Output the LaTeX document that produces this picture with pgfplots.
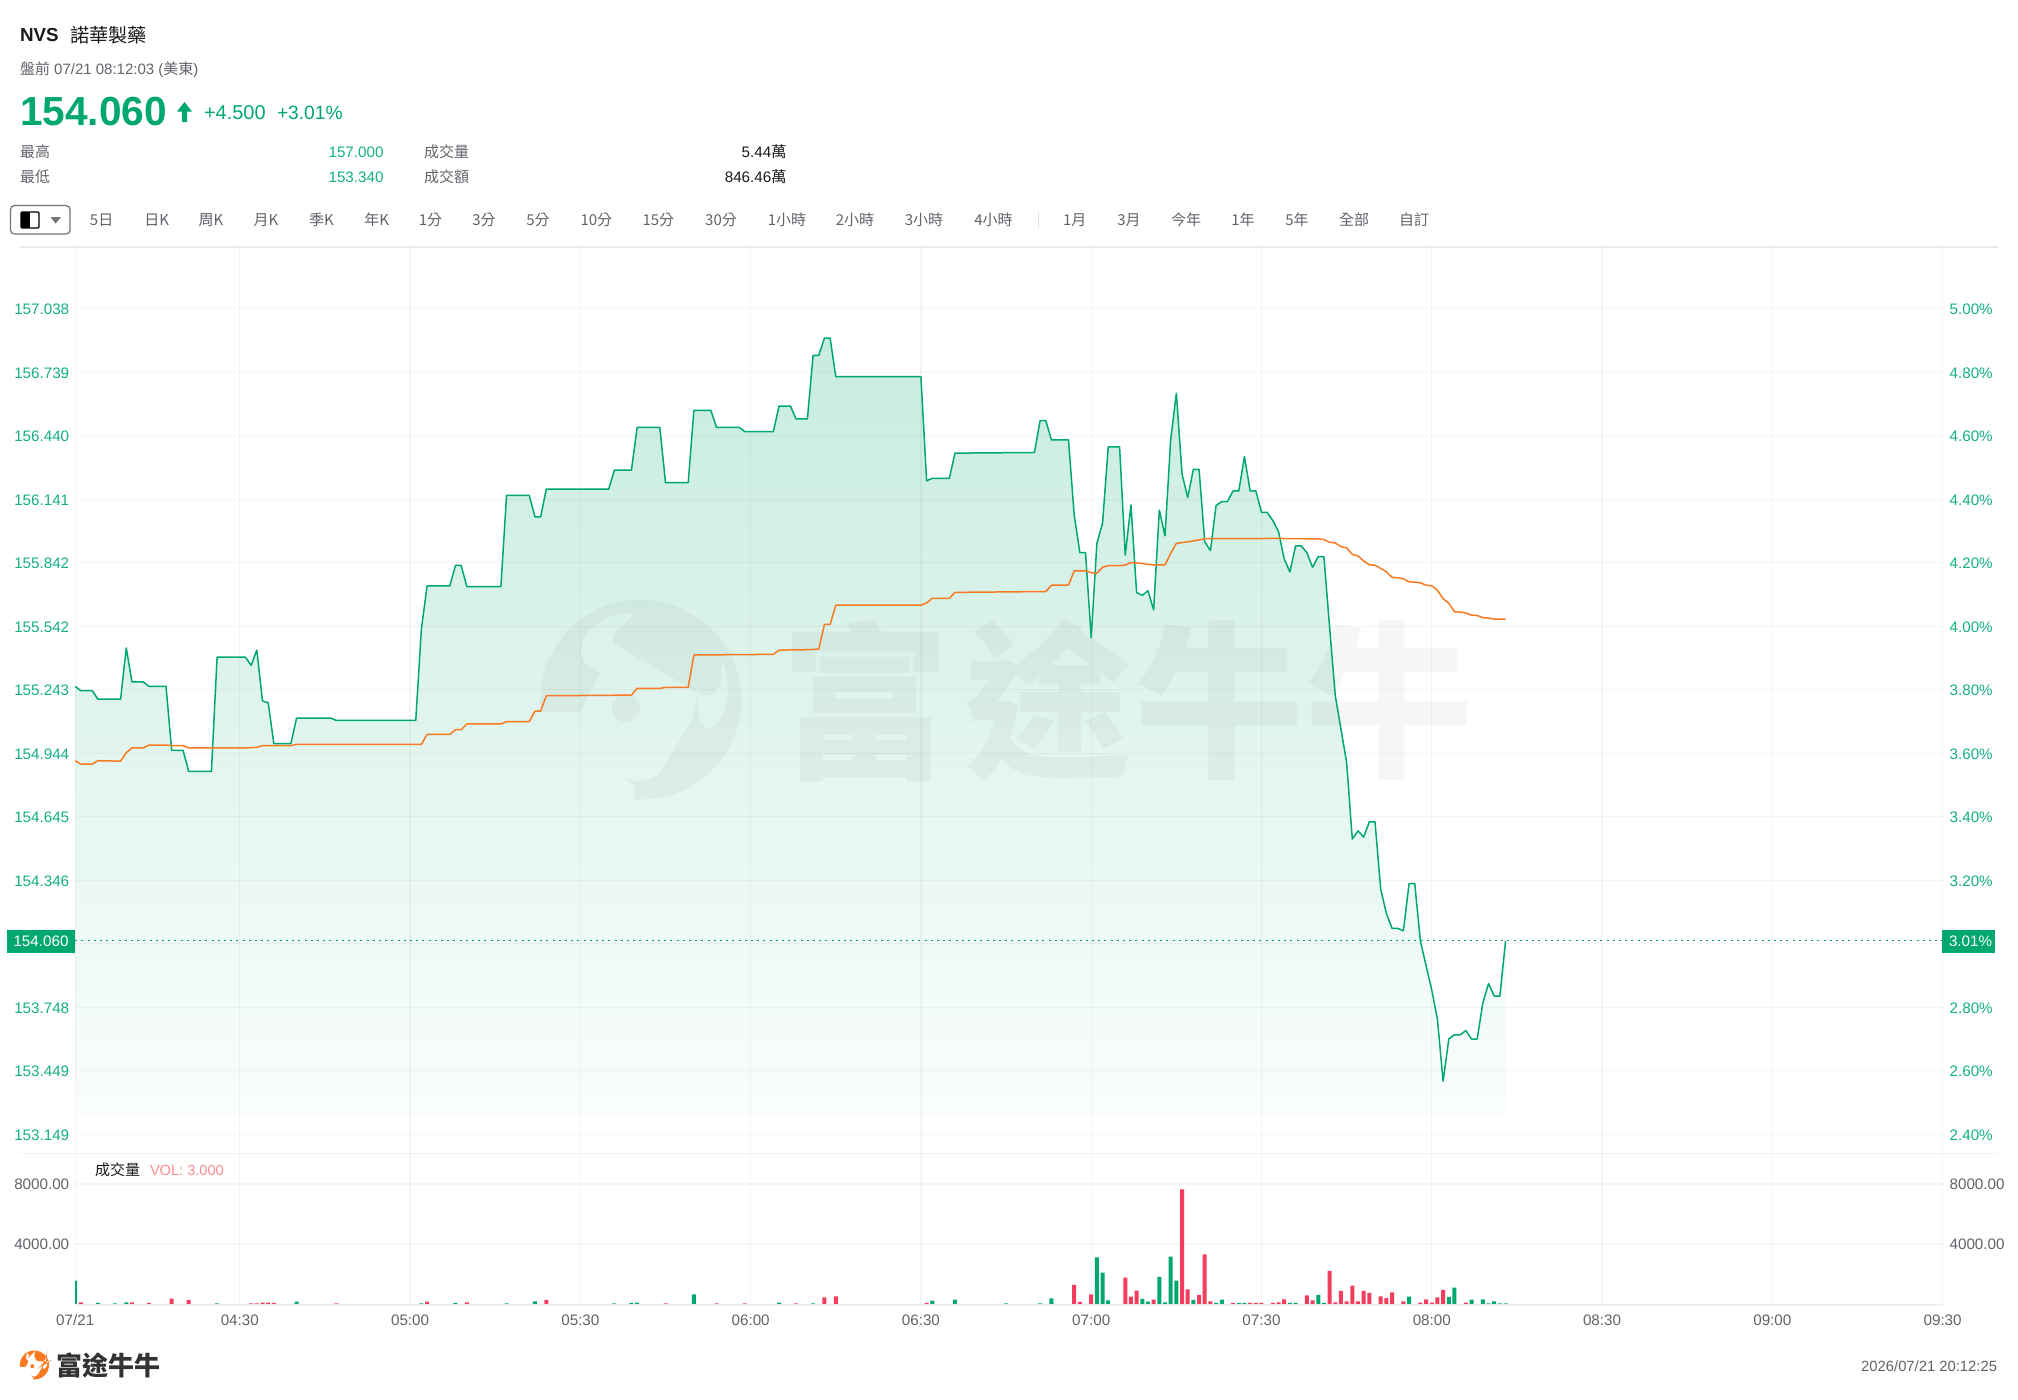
\documentclass[border=0pt]{standalone}
\usepackage{pgfplots}
\usepackage{pgfplotstable}
\usepackage{fontspec}
\pgfplotsset{compat=1.18}
\setmainfont{Liberation Sans}
\newfontfamily\cjk{Noto Sans CJK TC}
\definecolor{upg}{HTML}{00A870}
\definecolor{tickg}{HTML}{14B084}
\definecolor{org}{HTML}{F97A1F}
\definecolor{volr}{HTML}{F23D5C}
\definecolor{volt}{HTML}{FF8A8F}
\definecolor{gry}{HTML}{62626A}
\definecolor{dark}{HTML}{1A1A1F}
\newcommand\fs[1]{\fontsize{#1}{#1}\selectfont}

\pgfplotstableread{
m p
1 155.259
2 155.239
4 155.239
5 155.199
9 155.199
10 155.440
11 155.280
13 155.280
14 155.259
17 155.259
18 154.958
20 154.958
21 154.859
25 154.859
26 155.397
31 155.397
32 155.358
33 155.430
34 155.190
35 155.182
36 154.989
39 154.989
40 155.110
46 155.110
47 155.099
61 155.099
62 155.532
63 155.733
67 155.733
68 155.829
69 155.829
70 155.729
76 155.729
77 156.159
81 156.159
82 156.058
83 156.058
84 156.189
95 156.189
96 156.278
99 156.278
100 156.479
104 156.479
105 156.219
109 156.219
110 156.559
113 156.559
114 156.479
118 156.479
119 156.459
124 156.459
125 156.580
127 156.580
128 156.519
130 156.519
131 156.819
132 156.819
133 156.900
134 156.900
135 156.718
150 156.718
151 156.228
152 156.239
155 156.239
156 156.358
170 156.361
171 156.511
172 156.511
173 156.420
176 156.420
177 156.067
178 155.889
179 155.889
180 155.489
181 155.933
182 156.028
183 156.387
185 156.387
186 155.878
187 156.114
188 155.701
189 155.688
190 155.710
191 155.619
192 156.090
193 155.968
194 156.420
195 156.640
196 156.260
197 156.149
198 156.282
199 156.282
200 155.940
201 155.899
202 156.111
203 156.130
204 156.130
205 156.180
206 156.180
207 156.342
208 156.180
209 156.180
210 156.079
211 156.079
212 156.040
213 155.988
214 155.860
215 155.798
216 155.921
217 155.921
218 155.889
219 155.820
220 155.871
221 155.870
222 155.538
223 155.215
224 155.058
225 154.901
226 154.540
227 154.579
228 154.549
229 154.621
230 154.621
231 154.305
232 154.190
233 154.119
234 154.119
235 154.108
236 154.330
237 154.330
238 154.059
239 153.943
240 153.829
241 153.690
242 153.399
243 153.599
244 153.618
245 153.618
246 153.638
247 153.598
248 153.598
249 153.768
250 153.859
251 153.800
252 153.800
253 154.060
}\price

\pgfplotstableread{
m p
1 154.909
2 154.893
4 154.893
5 154.909
9 154.907
10 154.947
11 154.969
13 154.969
14 154.983
17 154.983
18 154.980
20 154.980
21 154.969
31 154.969
33 154.972
34 154.980
39 154.980
40 154.986
62 154.986
63 155.033
67 155.033
68 155.055
69 155.055
70 155.082
76 155.082
77 155.093
81 155.093
82 155.143
83 155.143
84 155.215
99 155.218
100 155.250
104 155.250
105 155.254
109 155.254
110 155.407
124 155.410
125 155.430
130 155.432
132 155.435
133 155.551
134 155.551
135 155.642
150 155.642
151 155.652
152 155.674
155 155.674
156 155.702
164 155.704
172 155.706
173 155.736
176 155.736
177 155.803
179 155.803
180 155.795
181 155.792
182 155.820
183 155.828
185 155.828
186 155.831
187 155.842
188 155.841
191 155.831
193 155.831
194 155.886
195 155.933
197 155.940
199 155.949
200 155.955
213 155.956
220 155.954
221 155.951
222 155.938
223 155.935
224 155.917
225 155.912
226 155.881
227 155.874
228 155.850
229 155.832
230 155.830
231 155.815
232 155.799
233 155.773
234 155.771
235 155.766
236 155.752
237 155.750
238 155.747
239 155.736
240 155.733
241 155.712
242 155.672
243 155.651
244 155.611
245 155.609
246 155.605
247 155.595
248 155.593
249 155.583
250 155.581
251 155.576
253 155.576
}\vwap

\pgfplotstableread{
m v
2 133
11 133
14 88
18 377
21 288
32 66
33 66
34 110
35 110
36 88
47 66
63 177
70 133
84 288
105 66
114 66
119 66
128 66
133 465
135 532
151 88
177 1285
178 155
180 665
186 1772
187 510
188 908
191 310
196 7642
197 997
199 620
200 3322
201 200
205 90
208 90
209 90
210 90
212 90
213 130
214 330
218 600
219 266
222 2215
223 133
224 886
225 200
226 1240
227 200
228 886
229 753
231 532
232 420
233 797
235 200
238 110
239 332
240 110
241 465
242 952
246 110
}\volred

\pgfplotstableread{
m v
1 1573
5 88
8 66
10 133
26 66
40 177
62 66
68 88
77 66
82 200
96 66
99 88
100 110
110 664
125 110
131 66
152 244
156 310
165 66
171 66
173 400
181 3123
182 2104
183 266
189 354
190 177
192 1816
193 133
194 3167
195 1573
198 288
202 90
203 310
206 90
207 90
215 90
216 90
220 620
221 90
236 510
243 487
244 1107
247 310
249 332
250 66
251 200
252 66
253 66
}\volgreen

\newcommand\logoshape{
  (-100,12) arc[start angle=173,end angle=327,radius=100]
  [rounded corners=5pt] -- (81,-40) -- (79,-10) -- (66,-2) -- (-33,-60) -- (-4,-88) [sharp corners]
  .. controls (-40,-85) and (-62,-65) .. (-60,-47)
  .. controls (-58,-35) and (-48,-30) .. (-41,-27)
  -- (-61,12) -- cycle
  (84,-55) arc[start angle=327,end angle=450,radius=100]
  -- (-7,100) -- (-7,85) -- (-23,72)
  .. controls (-10,85) and (12,85) .. (22,67)
  -- (51,20) -- (56,-5) -- (59,22)
  .. controls (62,30) and (72,30) .. (79,20)
  .. controls (90,5) and (88,-25) .. (81,-40) -- cycle
  (-15,8) ellipse [x radius=14,y radius=14]
}
\tikzset{px/.style={x=0.5pt,y=-0.5pt}}
\pgfplotsset{mainbox/.style={at={(37.6pt,-576.65pt)},anchor=south west,scale only axis,width=933.7pt,height=453.15pt,
  xmin=1,xmax=330,ymin=153.0595,ymax=157.329},
  volbox/.style={at={(37.6pt,-652.15pt)},anchor=south west,scale only axis,width=933.7pt,height=75.5pt,
  xmin=1,xmax=330,ymin=0,ymax=10034,scaled y ticks=false}}

\begin{document}
\begin{tikzpicture}[every node/.style={inner sep=0pt,outer sep=0pt}]
\path[use as bounding box,fill=white] (0pt,0pt) rectangle (1009pt,-699.5pt);

% area fill
\begin{axis}[mainbox,hide axis]
\addplot[draw=none,shade,top color=white!78!upg,bottom color=white!98!upg] table[x=m,y=p]{\price} -- (axis cs:253,153.23) -- (axis cs:1,153.23) -- cycle;
\end{axis}

% watermark
\begin{scope}[px]
\begin{scope}[shift={(641,700)}]
\fill[black,opacity=.036] \logoshape;
\end{scope}
\begin{scope}[black,opacity=.036]
\node at (865,701) {\cjk\bfseries\fs{84}富};
\node at (1048,701) {\cjk\bfseries\fs{84}途};
\node at (1219,701) {\cjk\bfseries\fs{84}牛};
\node at (1389,701) {\cjk\bfseries\fs{84}牛};
\end{scope}
\draw[black!8,line width=1pt] (20,247) -- (1998,247);
\draw[black!5,line width=.7pt] (20,1153.3) -- (1998,1153.3);
\end{scope}

% main axis
\begin{axis}[mainbox,
  axis line style={draw=none},major tick length=0pt,
  xmajorgrids,ymajorgrids,grid style={black,opacity=.04,line width=.65pt},
  xtick={1,30,60,90,120,150,180,210,240,270,300,330},xticklabels={},
  ytick={153.149,153.449,153.748,154.047,154.346,154.645,154.944,155.243,155.542,155.842,156.141,156.440,156.739,157.038},
  yticklabels={153.149,153.449,153.748,{},154.346,154.645,154.944,155.243,155.542,155.842,156.141,156.440,156.739,157.038},
  yticklabel style={font=\fs{7.6},text=tickg,anchor=east,inner sep=0pt,yshift=-.4pt},
  yticklabel shift=3pt]
\addplot[upg,line width=.75pt,mark=none,line join=round] table[x=m,y=p]{\price};
\addplot[org,line width=.75pt,mark=none,line join=round] table[x=m,y=p]{\vwap};
\addplot[upg,line width=.55pt,dash pattern=on 1pt off 2.1pt,mark=none] coordinates {(1,154.06) (330,154.06)};
\end{axis}

% right labels main
\begin{axis}[mainbox,
  axis line style={draw=none},major tick length=0pt,xtick=\empty,
  ytick={153.149,153.449,153.748,154.346,154.645,154.944,155.243,155.542,155.842,156.141,156.440,156.739,157.038},
  yticklabels={2.40\%,2.60\%,2.80\%,3.20\%,3.40\%,3.60\%,3.80\%,4.00\%,4.20\%,4.40\%,4.60\%,4.80\%,5.00\%},
  yticklabel pos=right,
  yticklabel style={font=\fs{7.6},text=tickg,anchor=west,inner sep=0pt,yshift=-.4pt},
  yticklabel shift=3.5pt]
\addplot[draw=none,forget plot] coordinates {(1,154) (330,155)};
\end{axis}

% volume axis
\begin{axis}[volbox,
  axis line style={draw=none},major tick length=0pt,
  xmajorgrids,ymajorgrids,grid style={black,opacity=.04,line width=.65pt},
  xtick={1,30,60,90,120,150,180,210,240,270,300,330},
  xticklabels={07/21,04:30,05:00,05:30,06:00,06:30,07:00,07:30,08:00,08:30,09:00,09:30},
  xticklabel style={font=\fs{7.6},text=gry,inner sep=0pt,anchor=center,yshift=-8pt},
  ytick={4000,8000},yticklabels={4000.00,8000.00},
  yticklabel style={font=\fs{7.6},text=gry,anchor=east,inner sep=0pt},
  yticklabel shift=3pt,
  ybar,bar width=2pt,bar shift=0pt]
\addplot[draw=none,fill=volr] table[x=m,y=v]{\volred};
\addplot[draw=none,fill=upg] table[x=m,y=v]{\volgreen};
\end{axis}
\begin{axis}[volbox,
  axis line style={draw=none},major tick length=0pt,xtick=\empty,
  ytick={4000,8000},yticklabels={4000.00,8000.00},yticklabel pos=right,
  yticklabel style={font=\fs{7.6},text=gry,anchor=west,inner sep=0pt},
  yticklabel shift=3.5pt]
\addplot[draw=none,forget plot] coordinates {(1,100) (330,200)};
\end{axis}

\begin{scope}[px]
\draw[black!6,line width=1pt] (75,1304.6) -- (1942.5,1304.6);

% badges
\fill[upg] (7,929.5) rectangle (75,953);
\node[text=white] at (41,941.3) {\fs{7.6}154.060};
\fill[upg] (1942,930) rectangle (1995,953);
\node[text=white,anchor=west] at (1949,941.6) {\fs{7.6}3.01\%};

% header
\node[anchor=west,text=dark] at (20,35) {\bfseries\fs{9.4}NVS};
\node[anchor=west,text=dark] at (70,35) {\cjk\fs{9.6}諾華製藥};
\node[anchor=west,text=gry] at (20,70) {\fs{7.5}{\cjk 盤前} 07/21 08:12:03 ({\cjk 美東})};
\node[anchor=west,text=upg] at (20,112) {\bfseries\fs{20.3}154.060};
\fill[upg] (184.5,102) -- (192,111.5) -- (187,111.5) -- (187,122) -- (182,122) -- (182,111.5) -- (177,111.5) -- cycle;
\node[anchor=west,text=upg] at (204,113) {\fs{10}+4.500};
\node[anchor=west,text=upg] at (277,113) {\fs{9.6}+3.01\%};
\node[anchor=west,text=gry] at (20,152) {\cjk\fs{7.5}最高};
\node[anchor=west,text=gry] at (20,177) {\cjk\fs{7.5}最低};
\node[anchor=east,text=tickg] at (383.5,152) {\fs{7.6}157.000};
\node[anchor=east,text=tickg] at (383.5,177) {\fs{7.6}153.340};
\node[anchor=west,text=gry] at (424,152) {\cjk\fs{7.5}成交量};
\node[anchor=west,text=gry] at (424,177) {\cjk\fs{7.5}成交額};
\node[anchor=east,text=dark] at (786.5,152) {\fs{7.6}5.44{\cjk 萬}};
\node[anchor=east,text=dark] at (786.5,177) {\fs{7.6}846.46{\cjk 萬}};

% toolbar
\draw[black!55,line width=.6pt,rounded corners=2pt,fill=white] (10.5,205.5) rectangle (70,234);
\fill[black] (21,212) rectangle (30,228);
\draw[black,line width=.6pt,rounded corners=.5pt] (21,212) rectangle (39,228);
\fill[black!55] (50.5,217) -- (61,217) -- (55.7,223.5) -- cycle;
\foreach \xx/\tt in {101.6/5日,156.7/日K,211/周K,266/月K,321.5/季K,376.6/年K,430.5/1分,484/3分,538/5分,596.4/10分,658.4/15分,721/30分,787/1小時,855/2小時,924/3小時,993.4/4小時,1074.7/1月,1128.9/3月,1186/今年,1243/1年,1297/5年,1354/全部,1414/自訂}
  \node[text=gry] at (\xx,220) {\cjk\fs{7.5}\tt};
\draw[black!12,line width=.5pt] (1038,212) -- (1038,228);

% volume legend
\node[anchor=west,text=dark] at (95,1170) {\cjk\fs{7.5}成交量};
\node[anchor=west,text=volt] at (150,1170) {\fs{7.3}VOL: 3.000};

% footer
\begin{scope}[shift={(34.5,1365)},x=0.0725pt,y=-0.0725pt]
\fill[org] \logoshape;
\end{scope}
\node[anchor=west,text=black!80] at (56,1365) {\cjk\bfseries\fs{13}富途牛牛};
\node[anchor=east,text=gry] at (1997,1366) {\fs{7.4}2026/07/21 20:12:25};
\end{scope}
\end{tikzpicture}
\end{document}
